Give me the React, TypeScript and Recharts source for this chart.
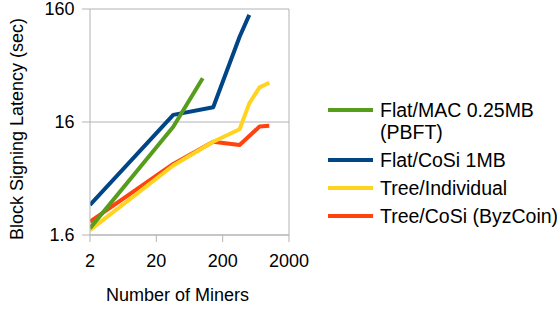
import React from "react";
import { LineChart, Line, XAxis, YAxis, CartesianGrid, Legend, ReferenceLine } from "recharts";

// ---- data ----
const flatMacX = [2, 36, 100];
const flatMacY = [1.84, 14.5, 39];

const flatCosiX = [2, 36, 144, 360, 504];
const flatCosiY = [2.95, 18.5, 21.6, 91, 142];

const treeIndX = [2, 36, 144, 360, 504, 720, 1008];
const treeIndY = [1.77, 6.6, 10.7, 13.8, 23.4, 32.4, 35.6];

const treeCosiX = [2, 36, 144, 360, 720, 1008];
const treeCosiY = [2.1, 6.8, 10.7, 10.0, 14.6, 14.8];

const xTicks = [2, 20, 200, 2000];
const yTicks = [1.6, 16, 160];

const seriesNames = ["Flat/MAC 0.25MB (PBFT)", "Flat/CoSi 1MB", "Tree/Individual", "Tree/CoSi (ByzCoin)"];
const legendLines = [["Flat/MAC 0.25MB", "(PBFT)"], ["Flat/CoSi 1MB"], ["Tree/Individual"], ["Tree/CoSi (ByzCoin)"]];
const colors = ["#579d1c", "#004586", "#ffd320", "#ff420e"];

const toData = (xs: number[], ys: number[]) => xs.map((x, i) => ({ x, y: ys[i] }));
const flatMacData = toData(flatMacX, flatMacY);
const flatCosiData = toData(flatCosiX, flatCosiY);
const treeIndData = toData(treeIndX, treeIndY);
const treeCosiData = toData(treeCosiX, treeCosiY);

const FONT = "'Liberation Sans', Arial, sans-serif";
const GRAY = "#b3b3b3";

const XTick = (props: any) => {
  const { x, y, payload } = props;
  return (
    <text x={x} y={y} dy={12} textAnchor="middle" fontSize={18} fontFamily={FONT} fill="#000">
      {payload.value}
    </text>
  );
};

const YTick = (props: any) => {
  const { x, y, payload } = props;
  return (
    <text x={x} y={y} dy={6.4} textAnchor="end" fontSize={18} fontFamily={FONT} fill="#000">
      {payload.value}
    </text>
  );
};

const XTitle = (props: any) => {
  const vb = props.viewBox || { x: 90, y: 235, width: 199, height: 74 };
  return (
    <text x={vb.x + vb.width / 2 - 12} y={vb.y + 65.7} textAnchor="middle" fontSize={18} fontFamily={FONT} fill="#000">
      Number of Miners
    </text>
  );
};

const YTitle = (props: any) => {
  const vb = props.viewBox || { x: 0, y: 9, width: 90, height: 226 };
  const cx = 23;
  const cy = vb.y + vb.height / 2 + 7;
  return (
    <text x={cx} y={cy} transform={`rotate(-90, ${cx}, ${cy})`} textAnchor="middle" fontSize={18} fontFamily={FONT} fill="#000">
      Block Signing Latency (sec)
    </text>
  );
};

const renderLegend = () => (
  <div style={{ fontFamily: FONT, fontSize: 19.5, lineHeight: "22px", color: "#000" }}>
    {legendLines.map((lines, i) => (
      <div key={seriesNames[i]} style={{ display: "flex", alignItems: "flex-start", marginBottom: 6 }}>
        <div style={{ width: 45, height: 4, background: colors[i], marginTop: 9, marginRight: 7, flexShrink: 0 }} />
        <div style={{ whiteSpace: "nowrap" }}>
          {lines.map((l) => (
            <div key={l}>{l}</div>
          ))}
        </div>
      </div>
    ))}
  </div>
);

export default function App() {
  return (
    <div style={{ position: "absolute", left: 0, top: 0, width: 557, height: 309, background: "#fff" }}>
      <LineChart width={557} height={309} margin={{ top: 9, right: 268, bottom: 0, left: 0 }}>
        <CartesianGrid stroke={GRAY} vertical={false} />
        <XAxis
          type="number"
          dataKey="x"
          scale="log"
          domain={[2, 2000]}
          ticks={xTicks}
          allowDataOverflow
          height={74}
          stroke={GRAY}
          tickLine={{ stroke: GRAY }}
          tickSize={7}
          tickMargin={13}
          tick={<XTick />}
          label={XTitle}
        />
        <YAxis
          type="number"
          dataKey="y"
          scale="log"
          domain={[1.6, 160]}
          ticks={yTicks}
          allowDataOverflow
          width={90}
          stroke={GRAY}
          tickLine={{ stroke: GRAY }}
          tickSize={8}
          tickMargin={7.5}
          tick={<YTick />}
          label={YTitle}
        />
        <ReferenceLine x={2000} stroke={GRAY} />
        <Line data={treeCosiData} dataKey="y" name={seriesNames[3]} stroke={colors[3]} strokeWidth={4} dot={false} strokeLinejoin="round" isAnimationActive={false} />
        <Line data={treeIndData} dataKey="y" name={seriesNames[2]} stroke={colors[2]} strokeWidth={4} dot={false} strokeLinejoin="round" isAnimationActive={false} />
        <Line data={flatCosiData} dataKey="y" name={seriesNames[1]} stroke={colors[1]} strokeWidth={4} dot={false} strokeLinejoin="round" isAnimationActive={false} />
        <Line data={flatMacData} dataKey="y" name={seriesNames[0]} stroke={colors[0]} strokeWidth={4} dot={false} strokeLinejoin="round" isAnimationActive={false} />
        <Legend
          layout="vertical"
          align="center"
          verticalAlign="middle"
          wrapperStyle={{ left: 328, top: 99, width: 229 }}
          content={renderLegend}
        />
      </LineChart>
    </div>
  );
}
